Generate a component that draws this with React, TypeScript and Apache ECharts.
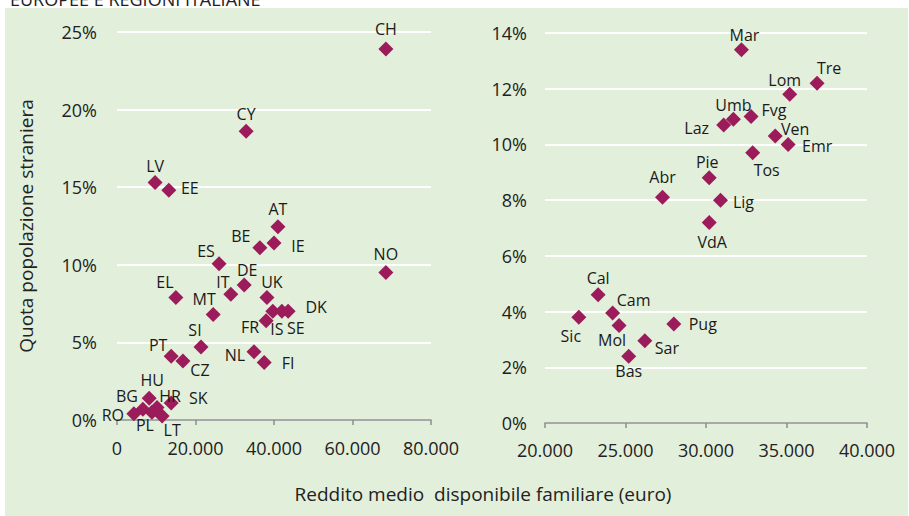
import React, { useEffect, useRef } from "react";
import * as echarts from "echarts";

// Europe: income (euro), share of foreign population (%)
const countries = ["CH","CY","LV","EE","AT","BE","IE","ES","DE","IT","UK","EL","MT","NO","DK","IS","SE","FR","SI","PT","CZ","NL","FI","HU","SK","HR","BG","RO","PL","LT"];
const countryIncome = [68500,32900,9700,13200,41000,36400,40000,26000,32400,29000,38200,15000,24500,68500,43600,39700,42000,38000,21400,13800,16800,34900,37500,8200,13800,10200,6600,4300,8900,11500];
const countryShare = [23.9,18.6,15.3,14.8,12.45,11.1,11.4,10.06,8.7,8.1,7.9,7.9,6.8,9.5,7.0,7.0,7.0,6.4,4.7,4.1,3.8,4.4,3.7,1.4,1.1,0.8,0.7,0.4,0.5,0.26];

// Italian regions
const regions = ["Mar","Tre","Lom","Umb","Laz","Fvg","Ven","Emr","Tos","Pie","Abr","Lig","VdA","Cal","Cam","Mol","Sic","Pug","Sar","Bas"];
const regionIncome = [32200,36900,35200,31700,31100,32800,34300,35100,32900,30200,27300,30900,30200,23300,24200,24600,22100,28000,26200,25200];
const regionShare = [13.4,12.2,11.8,10.9,10.7,11.0,10.3,10.0,9.7,8.8,8.1,8.0,7.2,4.6,3.95,3.5,3.8,3.55,2.95,2.4];

const leftYTicks = [0, 5, 25];
const rightYTicks = [0, 2, 14];
const leftXTicks = [0, 20000, 80000];
const rightXTicks = [20000, 5000, 40000];

// label offsets (styling only)
const labelOffsets: Record<string, [number, number]> = {
  CH: [0, -20], CY: [0, -17], LV: [0, -17], EE: [21, -2], AT: [0, -18], BE: [-19, -12],
  IE: [24, 3], ES: [-13, -13], DE: [3, -15], IT: [-8, -12], UK: [5, -15], EL: [-11, -15],
  MT: [-9, -15], NO: [0, -19], DK: [28, -4], IS: [4, 18], SE: [14, 17], FR: [-16, 6],
  SI: [-6, -17], PT: [-13, -11], CZ: [17, 9], NL: [-19, 3], FI: [24, 0], HU: [3, -18],
  SK: [27, -5], HR: [13, -12], BG: [-16, -13], RO: [-21, 1], PL: [-7, 13], LT: [10, 14],
  Mar: [3, -15], Tre: [12, -15], Lom: [-5, -14], Umb: [0, -14], Laz: [-27, 3], Fvg: [23, -7],
  Ven: [20, -7], Emr: [29, 2], Tos: [14, 17], Pie: [-2, -16], Abr: [0, -20], Lig: [23, 2],
  VdA: [3, 20], Cal: [0, -17], Cam: [21, -13], Mol: [-7, 14], Sic: [-8, 19], Pug: [29, 0],
  Sar: [22, 7], Bas: [0, 15],
};

const fmtThousands = (v: number) => String(Math.round(v)).replace(/\B(?=(\d{3})+(?!\d))/g, ".");

const MARK = "#9B1B5B";
const FONT = "'Open Sans', sans-serif";

function buildData(names: string[], xs: number[], ys: number[]) {
  return names.map((n, i) => ({
    name: n,
    value: [xs[i], ys[i]],
    label: { offset: labelOffsets[n] || [0, -16] },
  }));
}

export default function App() {
  const ref = useRef<HTMLDivElement>(null);
  useEffect(() => {
    if (!ref.current) return;
    const chart = echarts.init(ref.current, undefined, { renderer: "svg" });
    const axisLabel = { color: "#222", fontSize: 18, fontFamily: FONT };
    const yAxisCommon = {
      type: "value" as const,
      axisLine: { show: false },
      axisTick: { show: false },
      splitLine: { show: true, lineStyle: { color: "#ffffff", width: 2 } },
    };
    const xAxisCommon = {
      type: "value" as const,
      axisLine: { show: true, onZero: false, lineStyle: { color: "#8c8c8c", width: 1.5 } },
      axisTick: { show: true, length: 5, lineStyle: { color: "#8c8c8c", width: 1.5 } },
      splitLine: { show: false },
    };
    const labelStyle = {
      show: true,
      position: "inside" as const,
      formatter: (p: any) => p.name,
      color: "#1a1a1a",
      fontSize: 16,
      fontFamily: FONT,
    };
    chart.setOption({
      animation: false,
      backgroundColor: "#ffffff",
      graphic: [
        { type: "rect", shape: { x: 5, y: 8, width: 903, height: 510 }, style: { fill: "#E2EFDA" }, z: -10, silent: true },
        { type: "text", x: 10, y: -10, style: { text: "EUROPEE E REGIONI ITALIANE", fontSize: 18, fontFamily: FONT, fill: "#222" }, z: 10 },
        { type: "text", x: 483, y: 494, style: { text: "Reddito medio  disponibile familiare (euro)", fontSize: 19, fontFamily: FONT, fill: "#222", align: "center", verticalAlign: "middle" } },
      ],
      grid: [
        { left: 117, right: 478, top: 32, bottom: 96 },
        { left: 545, right: 42, top: 33, bottom: 93 },
      ],
      xAxis: [
        { ...xAxisCommon, gridIndex: 0, min: leftXTicks[0], interval: leftXTicks[1], max: leftXTicks[2],
          axisLabel: { ...axisLabel, margin: 19, formatter: (v: number) => fmtThousands(v) } },
        { ...xAxisCommon, gridIndex: 1, min: rightXTicks[0], interval: rightXTicks[1], max: rightXTicks[2],
          axisLabel: { ...axisLabel, margin: 18, formatter: (v: number) => fmtThousands(v) } },
      ],
      yAxis: [
        { ...yAxisCommon, gridIndex: 0, min: leftYTicks[0], interval: leftYTicks[1], max: leftYTicks[2],
          axisLabel: { ...axisLabel, margin: 20, formatter: (v: number) => v + "%" },
          name: "Quota popolazione straniera", nameLocation: "middle", nameGap: 82,
          nameTextStyle: { color: "#222", fontSize: 19, fontFamily: FONT } },
        { ...yAxisCommon, gridIndex: 1, min: rightYTicks[0], interval: rightYTicks[1], max: rightYTicks[2],
          axisLabel: { ...axisLabel, margin: 18, formatter: (v: number) => v + "%" } },
      ],
      series: [
        { type: "scatter", xAxisIndex: 0, yAxisIndex: 0, symbol: "diamond", symbolSize: 15,
          itemStyle: { color: MARK, opacity: 1 }, label: labelStyle, data: buildData(countries, countryIncome, countryShare) },
        { type: "scatter", xAxisIndex: 1, yAxisIndex: 1, symbol: "diamond", symbolSize: 15,
          itemStyle: { color: MARK, opacity: 1 }, label: labelStyle, data: buildData(regions, regionIncome, regionShare) },
      ],
    });
    return () => chart.dispose();
  }, []);
  return (
    <div style={{ position: "fixed", left: 0, top: 0, width: 909, height: 516 }}>
      <div ref={ref} style={{ width: 909, height: 516 }} />
    </div>
  );
}
